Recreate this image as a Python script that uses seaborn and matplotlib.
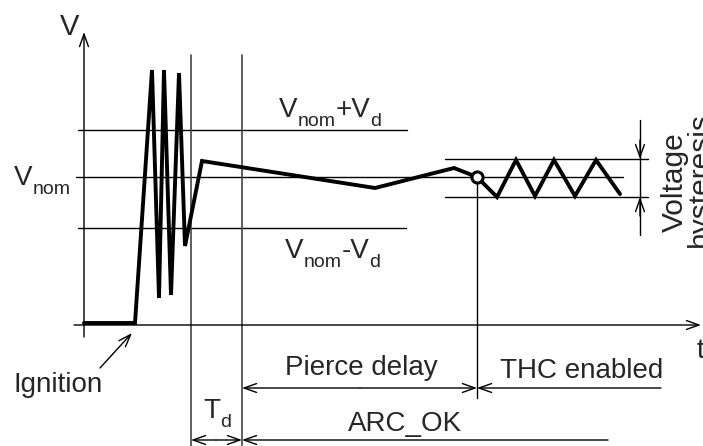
import numpy as np
import pandas as pd
import matplotlib
matplotlib.use('Agg')
import matplotlib.pyplot as plt
import seaborn as sns

# Waveform of the arc voltage (diagram units: x = time, y = voltage, screen-like)
wave_t = [84, 135, 152, 159, 164, 171, 179, 185, 202, 375, 454, 477,
          497, 516, 535, 554, 575, 596, 620]
wave_v = [323, 323, 70, 298, 70, 295, 73, 246, 161, 188, 168, 177,
          197, 160, 196, 160, 196, 160, 194]

# Levels
v_nom = 177
v_plus = 130
v_minus = 228
hyst_hi = 159
hyst_lo = 197
t_axis = 325

# Time markers
t_axis_x = 84
t_ignite = 135
t_arc = 191      # arc detected
t_pierce = 242   # end of T_d
t_thc = 477      # THC enabled

sns.set_style('white')
plt.rcParams['font.family'] = ['Liberation Sans', 'DejaVu Sans']

fig = plt.figure(figsize=(7.03, 4.46), dpi=100)
ax = fig.add_axes([0, 0, 1, 1])
ax.set_xlim(0, 703)
ax.set_ylim(446, 0)
ax.axis('off')

thin = dict(color='black', lw=1.0)
arrow = dict(arrowstyle='->,head_length=0.45,head_width=0.16', lw=1.0,
             color='black', mutation_scale=20, shrinkA=0, shrinkB=0)

FS = 20
SUB = 14
DROP = 5  # points the subscript sits below the baseline alignment


def label(x, y, parts):
    # parts: list of (text, is_subscript); chained left to right
    prev = None
    prev_sub = False
    for txt, is_sub in parts:
        size = SUB if is_sub else FS
        if prev is None:
            prev = ax.text(x, y, txt, fontsize=size, ha='left', va='baseline')
        else:
            dy = 0
            if is_sub and not prev_sub:
                dy = -DROP
            elif prev_sub and not is_sub:
                dy = DROP
            prev = ax.annotate(txt, xy=(1, 0), xycoords=prev,
                               xytext=(0, dy), textcoords='offset points',
                               fontsize=size, ha='left', va='bottom')
        prev_sub = is_sub


# axes
ax.annotate('', xy=(t_axis_x, 32), xytext=(t_axis_x, 337), arrowprops=arrow)
ax.annotate('', xy=(701, t_axis), xytext=(74, t_axis), arrowprops=arrow)
ax.text(60, 35, 'V', fontsize=21, ha='left', va='baseline')
ax.text(697, 358, 't', fontsize=FS, ha='left', va='baseline')

# level lines
ax.plot([78, 407], [v_plus, v_plus], **thin)
ax.plot([76, 623], [v_nom, v_nom], **thin)
ax.plot([78, 406], [v_minus, v_minus], **thin)
ax.plot([445, 648], [hyst_hi, hyst_hi], **thin)
ax.plot([445, 648], [hyst_lo, hyst_lo], **thin)

# vertical markers
ax.plot([t_arc, t_arc], [55, 446], color='#444444', lw=1.2)
ax.plot([t_pierce, t_pierce], [55, 446], color='#444444', lw=1.2)
ax.plot([t_thc, t_thc], [v_nom, 398], **thin)

# waveform
wave = pd.DataFrame({'t': wave_t, 'v': wave_v})
sns.lineplot(data=wave, x='t', y='v', sort=False, color='black', lw=2.8,
             ax=ax, solid_joinstyle='miter')
ax.plot(t_thc, v_nom, 'o', ms=8, mfc='white', mec='black', mew=2.2, zorder=5)

# labels of levels
label(14, 185, [('V', False), ('nom', True)])
label(279, 117, [('V', False), ('nom', True), ('+V', False), ('d', True)])
label(285, 258, [('V', False), ('nom', True), ('-V', False), ('d', True)])

# hysteresis dimension
ax.plot([640, 640], [120, 235], **thin)
ax.annotate('', xy=(640, hyst_hi), xytext=(640, 140), arrowprops=arrow)
ax.annotate('', xy=(640, hyst_lo), xytext=(640, 216), arrowprops=arrow)
ax.text(683, 182, 'Voltage', fontsize=21.5, rotation=90, rotation_mode='anchor',
        ha='center', va='baseline')
ax.text(708, 180, 'hysteresis', fontsize=21.5, rotation=90,
        rotation_mode='anchor', ha='center', va='baseline')

# ignition
ax.annotate('', xy=(132, 333), xytext=(100, 368), arrowprops=arrow)
ax.text(13, 392, 'Ignition', fontsize=FS, ha='left', va='baseline')

# pierce delay / THC enabled
ax.annotate('', xy=(t_pierce, 388), xytext=(360, 388), arrowprops=arrow)
ax.annotate('', xy=(t_thc, 388), xytext=(360, 388), arrowprops=arrow)
ax.annotate('', xy=(t_thc, 388), xytext=(661, 388), arrowprops=arrow)
ax.text(285, 375, 'Pierce delay', fontsize=FS, ha='left', va='baseline')
ax.text(500, 378, 'THC enabled', fontsize=FS, ha='left', va='baseline')

# T_d / ARC_OK
ax.annotate('', xy=(t_arc, 440), xytext=(216, 440), arrowprops=arrow)
ax.annotate('', xy=(t_pierce, 440), xytext=(216, 440), arrowprops=arrow)
ax.annotate('', xy=(t_pierce, 440), xytext=(608, 440), arrowprops=arrow)
label(203, 418, [('T', False), ('d', True)])
ax.text(348, 431, 'ARC_OK', fontsize=FS, ha='left', va='baseline')

fig.savefig('out.png', dpi=100)
